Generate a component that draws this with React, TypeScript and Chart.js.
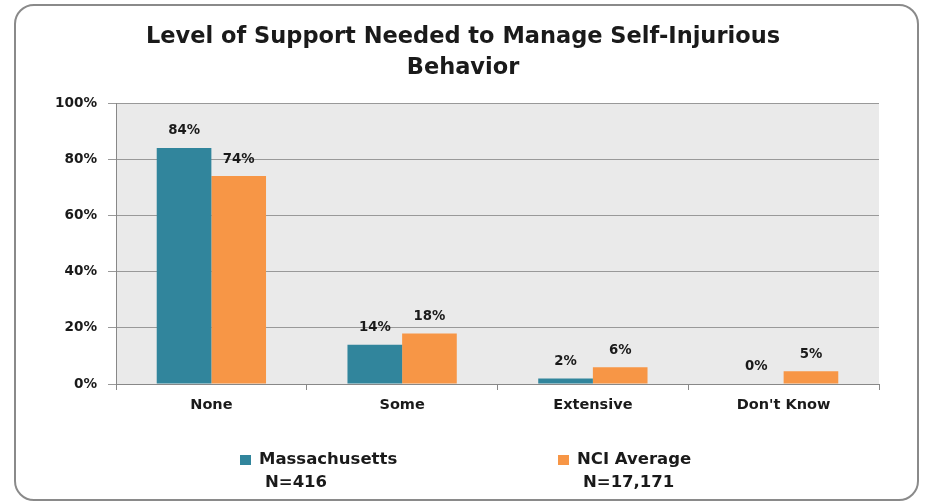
import React, { useEffect, useRef } from "react";
import { Chart, registerables } from "chart.js";

Chart.register(...registerables);

const titleLines = ["Level of Support Needed to Manage Self-Injurious", "Behavior"];
const categories = ["None", "Some", "Extensive", "Don't Know"];
const seriesNames = ["Massachusetts", "NCI Average"];
const seriesN = ["N=416", "N=17,171"];
const massachusetts = [84, 14, 2, 0];
const nciAverage = [74, 18, 6, 4.5];
const yTicks = [0, 20, 40, 60, 80, 100];

const FONT = "'DejaVu Sans', sans-serif";
const TEXT = "#1a1a1a";
const COLORS = ["#31859C", "#F79646"];

export default function App() {
  const ref = useRef<HTMLCanvasElement>(null);

  useEffect(() => {
    if (!ref.current) return;

    const bgPlugin = {
      id: "plotBg",
      beforeDraw(chart: any) {
        const { ctx, chartArea: a } = chart;
        ctx.save();
        ctx.fillStyle = "#EAEAEA";
        ctx.fillRect(a.left, a.top, a.right - a.left, a.bottom - a.top);
        ctx.restore();
      },
    };

    const valueLabels = {
      id: "valueLabels",
      afterDatasetsDraw(chart: any) {
        const ctx = chart.ctx;
        ctx.save();
        ctx.font = `bold 13.3px ${FONT}`;
        ctx.fillStyle = TEXT;
        ctx.textAlign = "center";
        ctx.textBaseline = "middle";
        chart.data.datasets.forEach((ds: any, i: number) => {
          const meta = chart.getDatasetMeta(i);
          meta.data.forEach((bar: any, j: number) => {
            ctx.fillText(`${Math.round(ds.data[j])}%`, bar.x, bar.y - 17);
          });
        });
        ctx.restore();
      },
    };

    const nLegend = {
      id: "nLegend",
      afterDraw(chart: any) {
        const ctx = chart.ctx;
        const xs = [240, 558];
        ctx.save();
        chart.data.datasets.forEach((ds: any, i: number) => {
          const x = xs[i];
          ctx.fillStyle = ds.backgroundColor;
          ctx.fillRect(x, 455, 11, 10);
          ctx.fillStyle = TEXT;
          ctx.font = `bold 16.5px ${FONT}`;
          ctx.textAlign = "left";
          ctx.textBaseline = "middle";
          ctx.fillText(ds.label, x + 19, 460);
          ctx.fillText(seriesN[i], x + 25, 483);
        });
        ctx.restore();
      },
    };

    const chart = new Chart(ref.current, {
      type: "bar",
      data: {
        labels: categories,
        datasets: [
          { label: seriesNames[0], data: massachusetts, backgroundColor: COLORS[0] },
          { label: seriesNames[1], data: nciAverage, backgroundColor: COLORS[1] },
        ],
      },
      options: {
        responsive: false,
        animation: false,
        layout: { padding: { top: 6, left: 47, right: 47, bottom: 0 } },
        datasets: { bar: { categoryPercentage: 0.573, barPercentage: 1 } } as any,
        plugins: {
          legend: { display: false },
          tooltip: { enabled: false },
          title: {
            display: true,
            text: titleLines,
            color: TEXT,
            font: { family: FONT, size: 22.5, weight: "bold", lineHeight: 1.37 },
            padding: { top: 15.6, bottom: 19.8 },
          },
        },
        scales: {
          x: {
            grid: { display: true, drawOnChartArea: false, offset: true, tickLength: 6, color: "#888" },
            border: { color: "#888" },
            ticks: { font: { family: FONT, size: 14.5, weight: "bold" }, color: TEXT, padding: 7 },
            afterFit(s: any) {
              s.height = 118;
            },
          },
          y: {
            min: yTicks[0],
            max: yTicks[yTicks.length - 1],
            afterBuildTicks(s: any) {
              s.ticks = yTicks.map((v) => ({ value: v }));
            },
            ticks: {
              callback: (v: any) => `${v}%`,
              font: { family: FONT, size: 13.6, weight: "bold" },
              color: TEXT,
              padding: 11,
            },
            grid: { color: "#999", tickLength: 8 },
            border: { color: "#888" },
            afterFit(s: any) {
              s.width = 69;
            },
          },
        },
      },
      plugins: [bgPlugin, valueLabels, nLegend],
    });

    return () => chart.destroy();
  }, []);

  return (
    <div style={{ position: "absolute", left: 0, top: 0, width: 926, height: 502, background: "#fff" }}>
      <div
        style={{
          position: "absolute",
          left: 14,
          top: 4,
          width: 905,
          height: 497,
          boxSizing: "border-box",
          border: "2px solid #8a8a8a",
          borderRadius: 20,
        }}
      />
      <canvas ref={ref} width={926} height={502} style={{ position: "absolute", left: 0, top: 0, display: "block" }} />
    </div>
  );
}
